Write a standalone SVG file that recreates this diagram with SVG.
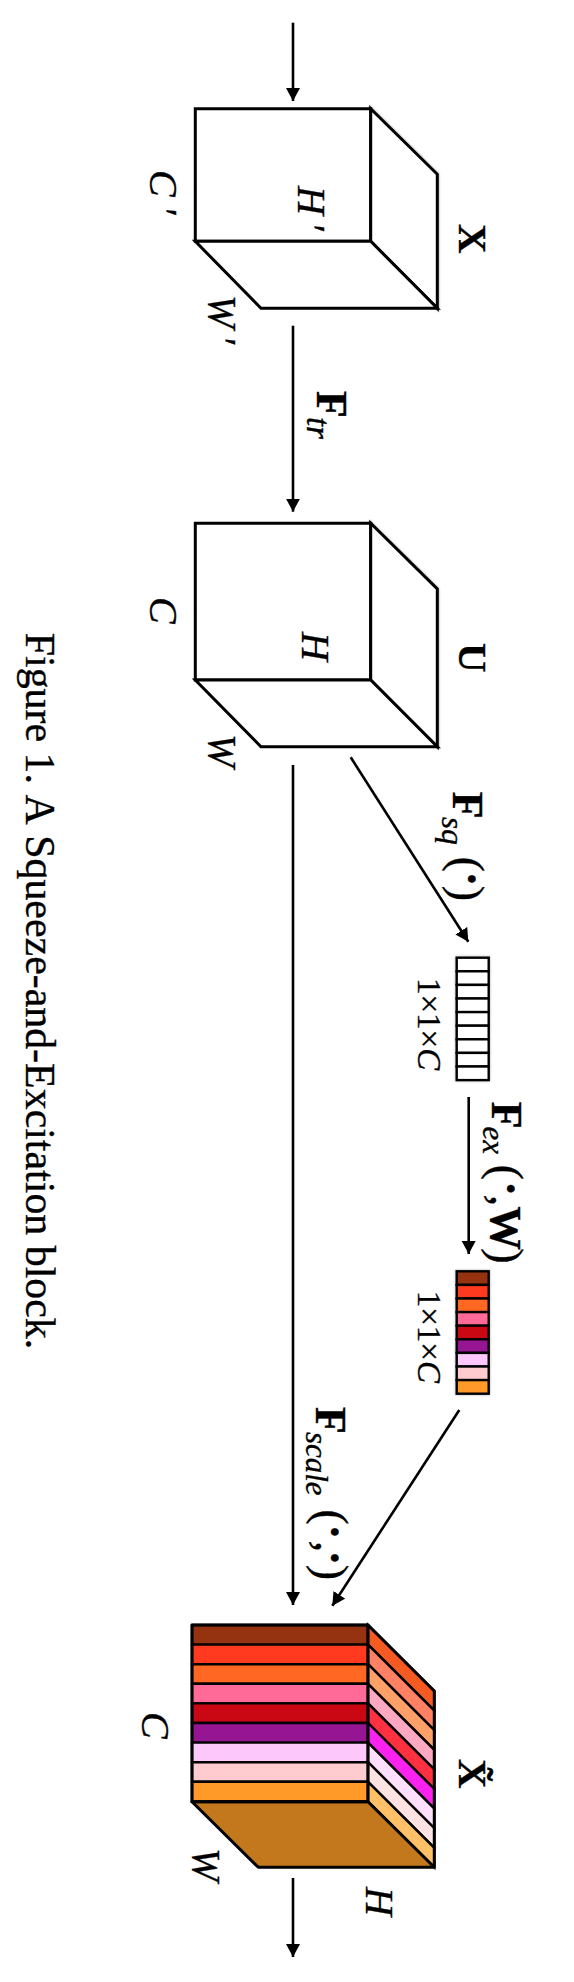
<svg xmlns="http://www.w3.org/2000/svg" width="574" height="1982" viewBox="0 0 574 1982">
<style>
text{font-family:"Liberation Serif","Times New Roman",serif;fill:#000;stroke:#000;stroke-width:.35}
.i{font-style:italic;font-size:40px}
.b{font-weight:bold;font-size:41px}
.f{font-weight:bold;font-size:44px}
.s{font-style:italic;font-weight:normal;font-size:31px}
.p{font-weight:normal;font-size:46px}
.o{font-weight:bold}
.d{font-size:33px}
.box{fill:#fff;stroke:#000;stroke-width:3;stroke-linejoin:miter}
.e{stroke:#000;stroke-width:3;stroke-linejoin:round}
.c{fill:none;stroke:#000;stroke-width:2.6}
.cell{stroke:#000;stroke-width:2.4}
</style>
<defs>
<marker id="h" markerUnits="userSpaceOnUse" markerWidth="15" markerHeight="15" refX="13" refY="7" orient="auto"><path d="M0 0L13 7L0 14Z" fill="#000"/></marker>
<filter id="sh" x="-10%" y="-10%" width="120%" height="120%"><feGaussianBlur stdDeviation="1.2"/></filter>
</defs>
<g id="connectors">
<path class="c" marker-end="url(#h)" d="M293 22.7V101"/>
<path class="c" marker-end="url(#h)" d="M293 325.7V511.7"/>
<path class="c" marker-end="url(#h)" d="M293 765V1605"/>
<path class="c" marker-end="url(#h)" d="M293 1878V1957"/>
<path class="c" marker-end="url(#h)" d="M350.7 757.3L468.3 941.7"/>
<path class="c" marker-end="url(#h)" d="M468.7 1097V1254"/>
<path class="c" marker-end="url(#h)" d="M459.3 1410L332.3 1605.7"/>
</g>
<g id="node-x">
<path d="M370.7 108.7V241.3L437.3 308.3V174.3Z" fill="none" stroke="#999" stroke-width="3" filter="url(#sh)"/>
<path class="box" d="M195.3 108.7H370.7V241.3H195.3Z"/>
<path class="box" d="M370.7 108.7L437.3 174.3V308.3L370.7 241.3Z"/>
<path class="box" d="M195.3 241.3H370.7L437.3 308.3H261Z"/>
<text class="i" transform="translate(150,170) rotate(90)">C<tspan dx="-1"> ′</tspan></text>
<text class="i" transform="translate(298,186) rotate(90)">H<tspan dx="-3"> ′</tspan></text>
<text class="i" transform="translate(209,295) rotate(90)">W<tspan dx="-3"> ′</tspan></text>
<text class="b" transform="translate(458.5,224) rotate(90)">X</text>
</g>
<g id="node-u">
<path d="M370.7 523.3V680L437.3 746.7V589Z" fill="none" stroke="#999" stroke-width="3" filter="url(#sh)"/>
<path class="box" d="M195.3 523.3H370.7V680H195.3Z"/>
<path class="box" d="M370.7 523.3L437.3 589V746.7L370.7 680Z"/>
<path class="box" d="M195.3 680H370.7L437.3 746.7H261Z"/>
<text class="i" transform="translate(150,597) rotate(90)">C</text>
<text class="i" transform="translate(302,632) rotate(90)">H</text>
<text class="i" transform="translate(209,734) rotate(90)">W</text>
<text class="b" transform="translate(458.5,643) rotate(90)">U</text>
</g>
<g id="label-ftr">
<text class="f" transform="translate(316.7,391) rotate(90)">F<tspan class="s" dx="-1" dy="9.7" style="font-size:33px">tr</tspan></text>
</g>
<g id="label-fsq">
<text class="f" transform="translate(452.7,791.7) rotate(90)">F<tspan class="s" dx="-1.5" dy="11">sq</tspan></text>
<text class="p" transform="translate(452,856.7) rotate(90)">(<tspan class="o" dx="-0.7" dy="-3.5">·</tspan><tspan dx="-0.8" dy="3.5">)</tspan></text>
</g>
<g id="node-squeeze">
<rect x="456.7" y="957.7" width="32" height="122.3" fill="none" stroke="#bbb" stroke-width="3" filter="url(#sh)"/>
<g class="cell" fill="#fff">
<rect x="456.7" y="957.7" width="32" height="13.6"/><rect x="456.7" y="971.3" width="32" height="13.6"/><rect x="456.7" y="984.9" width="32" height="13.6"/><rect x="456.7" y="998.5" width="32" height="13.6"/><rect x="456.7" y="1012.1" width="32" height="13.6"/><rect x="456.7" y="1025.7" width="32" height="13.6"/><rect x="456.7" y="1039.3" width="32" height="13.6"/><rect x="456.7" y="1052.9" width="32" height="13.6"/><rect x="456.7" y="1066.5" width="32" height="13.6"/>
</g>
<text class="d" transform="translate(417.5,978) rotate(90)">1×1×<tspan font-style="italic">C</tspan></text>
</g>
<g id="label-fex">
<text class="f" transform="translate(491.7,1101.7) rotate(90)">F<tspan class="s" dx="-2" dy="9">ex</tspan></text>
<text class="p" transform="translate(491,1164.7) rotate(90)">(<tspan class="o" dx="1" dy="-3.5">·</tspan><tspan dx="-1.5" dy="3.5" font-style="italic">,</tspan><tspan class="f">W</tspan><tspan dx="-2">)</tspan></text>
</g>
<g id="node-excite">
<rect x="456.7" y="1271.3" width="32" height="122.4" fill="none" stroke="#bbb" stroke-width="3" filter="url(#sh)"/>
<g class="cell">
<rect x="456.7" y="1271.3" width="32" height="13.6" fill="#953210"/><rect x="456.7" y="1284.9" width="32" height="13.6" fill="#ff3a1e"/><rect x="456.7" y="1298.5" width="32" height="13.6" fill="#ff6722"/><rect x="456.7" y="1312.1" width="32" height="13.6" fill="#ff6a98"/><rect x="456.7" y="1325.7" width="32" height="13.6" fill="#c90814"/><rect x="456.7" y="1339.3" width="32" height="13.6" fill="#951592"/><rect x="456.7" y="1352.9" width="32" height="13.6" fill="#fcc8fc"/><rect x="456.7" y="1366.5" width="32" height="13.6" fill="#fecbce"/><rect x="456.7" y="1380.1" width="32" height="13.6" fill="#ff9a28"/>
</g>
<text class="d" transform="translate(417.5,1290.7) rotate(90)">1×1×<tspan font-style="italic">C</tspan></text>
</g>
<g id="label-fscale">
<text class="f" transform="translate(316,1407) rotate(90)">F<tspan class="s" dx="-2" dy="10">scale</tspan></text>
<text class="p" transform="translate(315.5,1509.4) rotate(90)">(<tspan class="o" dx="-0.5" dy="-3.5">·</tspan><tspan dx="1.3" dy="3.5" font-style="italic">,</tspan><tspan class="o" dx="-2.2" dy="-3.5">·</tspan><tspan dx="-0.7" dy="3.5">)</tspan></text>
</g>
<g id="node-xtilde">
<path fill="#953210" class="cell" d="M192 1625H368V1644.6H192Z"/>
<path fill="#ff3a1e" class="cell" d="M192 1644.6H368V1664.2H192Z"/>
<path fill="#ff6722" class="cell" d="M192 1664.2H368V1683.8H192Z"/>
<path fill="#ff6a98" class="cell" d="M192 1683.8H368V1703.4H192Z"/>
<path fill="#c90814" class="cell" d="M192 1703.4H368V1723H192Z"/>
<path fill="#951592" class="cell" d="M192 1723H368V1742.6H192Z"/>
<path fill="#fcc8fc" class="cell" d="M192 1742.6H368V1762.2H192Z"/>
<path fill="#fecbce" class="cell" d="M192 1762.2H368V1781.8H192Z"/>
<path fill="#ff9a28" class="cell" d="M192 1781.8H368V1801.7H192Z"/>
<path fill="#f45a22" class="cell" d="M368 1625L434.3 1691V1710.6L368 1644.6Z"/>
<path fill="#ff8062" class="cell" d="M368 1644.6L434.3 1710.6V1730.2L368 1664.2Z"/>
<path fill="#ffa068" class="cell" d="M368 1664.2L434.3 1730.2V1749.8L368 1683.8Z"/>
<path fill="#ffa8c2" class="cell" d="M368 1683.8L434.3 1749.8V1769.4L368 1703.4Z"/>
<path fill="#ff3040" class="cell" d="M368 1703.4L434.3 1769.4V1789L368 1723Z"/>
<path fill="#fb22f0" class="cell" d="M368 1723L434.3 1789V1808.6L368 1742.6Z"/>
<path fill="#ffe0fc" class="cell" d="M368 1742.6L434.3 1808.6V1828.2L368 1762.2Z"/>
<path fill="#ffe2e2" class="cell" d="M368 1762.2L434.3 1828.2V1847.8L368 1781.8Z"/>
<path fill="#ffc068" class="cell" d="M368 1781.8L434.3 1847.8V1867.3L368 1801.7Z"/>
<path fill="#c4781e" class="e" d="M192 1801.7H368L434.3 1867.3H258.3Z"/>
<path fill="none" class="e" d="M192 1625H368V1801.7H192Z"/>
<path fill="none" class="e" d="M368 1625L434.3 1691V1867.3"/>
<text class="i" transform="translate(142,1712) rotate(90)">C</text>
<text class="i" transform="translate(193,1848) rotate(90)">W</text>
<text class="i" transform="translate(365.5,1887) rotate(90)">H</text>
<text class="b" transform="translate(458.5,1759) rotate(90)">X̃</text>
</g>
<g id="caption">
<text transform="translate(26,632.7) rotate(90)" style="font-size:41.9px;font-kerning:none">Figure 1. A Squeeze-and-Excitation block.</text>
</g>
</svg>
